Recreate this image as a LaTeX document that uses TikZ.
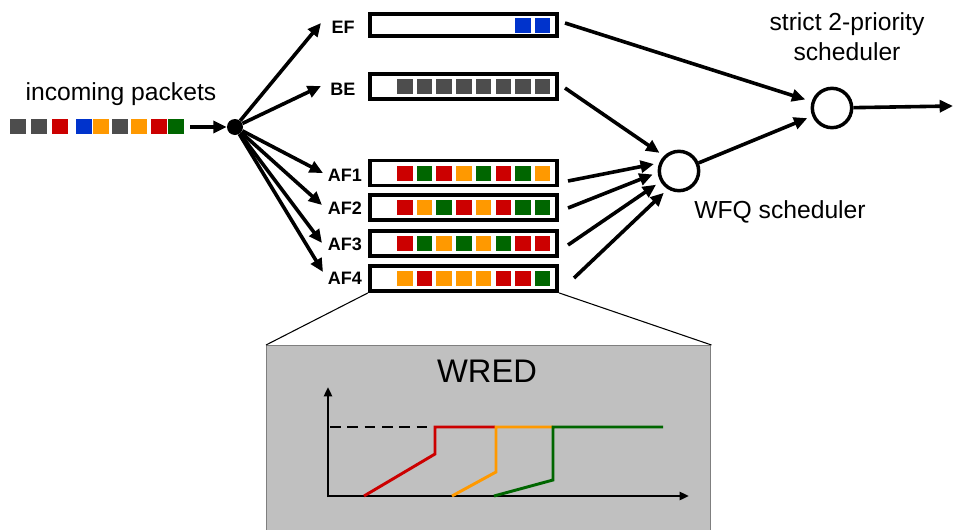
\documentclass[tikz,border=0pt]{standalone}
\usepackage{fontspec}
\setmainfont{Liberation Sans}
\usetikzlibrary{arrows.meta,calc}
\definecolor{pgray}{HTML}{4D4D4D}
\definecolor{pred}{HTML}{CC0000}
\definecolor{pgreen}{HTML}{006600}
\definecolor{porange}{HTML}{FF9900}
\definecolor{pblue}{HTML}{0033CC}
\definecolor{wredbg}{HTML}{C0C0C0}
\definecolor{wredbd}{HTML}{7F7F7F}
\begin{document}
\begin{tikzpicture}[x=0.75pt,y=-0.75pt,
  arr/.style={line width=2.7pt,-{Triangle[length=10pt,width=9pt]}},
  queue/.style={draw,line width=2.9pt,minimum width=140.5pt,minimum height=18.75pt,inner sep=0},
  lab/.style={font=\bfseries\fontsize{13.5}{16}\selectfont,inner sep=0},
  big/.style={font=\fontsize{18.5}{22.5}\selectfont,align=center,inner sep=0},
  sched/.style={circle,draw,line width=2.6pt,minimum size=29.5pt,inner sep=0},
  curve/.style={line width=2.2pt}]
\useasboundingbox (0,0) rectangle (954,529);

% incoming packets
\node[big] (inlab) at (121,94) {incoming packets};
\foreach \x/\c in {10/pgray,31/pgray,52/pred,76/pblue,93/porange,112/pgray,131/porange,151/pred,168/pgreen}
  \fill[\c] (\x,119) rectangle ++(15.5,14.5);
\coordinate (in) at (190,127);
\node[circle,fill,inner sep=0,minimum size=12pt] (dot) at (235,127) {};
\draw[arr] (in) -- (dot);

% queues
\node[queue,minimum height=17pt] (qEF) at (463.5,25) {};
\node[queue] (qBE) at (463.5,86.5) {};
\node[queue] (qAF1) at (463.5,173) {};
\node[queue] (qAF2) at (463.5,207.5) {};
\node[queue] (qAF3) at (463.5,243.5) {};
\node[queue] (qAF4) at (463.5,278.5) {};

\node[lab] (lEF) at (343,27) {EF};
\node[lab] (lBE) at (343,89) {BE};
\node[lab] (lAF1) at (345,175) {AF1};
\node[lab] (lAF2) at (345,208) {AF2};
\node[lab] (lAF3) at (345,244) {AF3};
\node[lab] (lAF4) at (345,278) {AF4};

% packets in queues
\foreach \c [count=\i from 6] in {pblue,pblue}
  \fill[\c] ({397+19.7*\i},17.5) rectangle ++(15.5,15);
\foreach \c [count=\i from 0] in {pgray,pgray,pgray,pgray,pgray,pgray,pgray,pgray}
  \fill[\c] ({397+19.7*\i},79) rectangle ++(15.5,15);
\foreach \c [count=\i from 0] in {pred,pgreen,pred,porange,pgreen,pred,pgreen,porange}
  \fill[\c] ({397+19.7*\i},165.5) rectangle ++(15.5,15);
\foreach \c [count=\i from 0] in {pred,porange,pgreen,pred,porange,pred,pgreen,pgreen}
  \fill[\c] ({397+19.7*\i},200) rectangle ++(15.5,15);
\foreach \c [count=\i from 0] in {pred,pgreen,porange,pgreen,porange,pgreen,pred,pred}
  \fill[\c] ({397+19.7*\i},236) rectangle ++(15.5,15);
\foreach \c [count=\i from 0] in {porange,pred,porange,porange,porange,pred,pred,pgreen}
  \fill[\c] ({397+19.7*\i},271) rectangle ++(15.5,15);

% fan-out arrows
\coordinate (tEF) at (321,23);
\coordinate (tBE) at (321,86);
\coordinate (tAF1) at (323,173);
\coordinate (tAF2) at (322,205);
\coordinate (tAF3) at (322,243);
\coordinate (tAF4) at (323,272);
\foreach \t in {tEF,tBE,tAF1,tAF2,tAF3,tAF4}
  \draw[arr] (dot) -- (\t);

% schedulers
\node[sched] (wfq) at (679,171) {};
\node[sched] (sp) at (832,108) {};
\node[big] (splab) at (847,37) {strict 2-priority\\scheduler};
\node[big] (wfqlab) at (780,212) {WFQ scheduler};

\coordinate (sEF) at (565,23);
\coordinate (sBE) at (565,88);
\coordinate (sAF1) at (568,181);
\coordinate (sAF2) at (568,208);
\coordinate (sAF3) at (568,245);
\coordinate (sAF4) at (574,278);
\draw[arr,shorten >=5pt] (sEF) -- (sp);
\draw[arr,shorten >=4pt] (wfq) -- (sp);
\draw[arr,shorten >=4pt] (sBE) -- (wfq.135);
\draw[arr,shorten >=4pt] (sAF1) -- (wfq.158);
\draw[arr,shorten >=4pt] (sAF2) -- (wfq.184);
\draw[arr,shorten >=4pt] (sAF3) -- (wfq.210);
\draw[arr,shorten >=4pt] (sAF4) -- (wfq.238);
\coordinate (out) at (953,106);
\draw[arr] (sp) -- (out);

% WRED zoom
\node[fill=wredbg,draw=wredbd,line width=1.1pt,anchor=north west,minimum width=333pt,minimum height=150pt,inner sep=0] (wred) at (266,345) {};
\draw[line width=0.8pt] (qAF4.south west) -- (wred.north west);
\draw[line width=0.8pt] (qAF4.south east) -- (wred.north east);
\node[font=\fontsize{24.5}{28}\selectfont,inner sep=0] (wredlab) at (487,371) {WRED};

\draw[line width=2.2pt,-{Triangle[length=7pt,width=6pt]}] (328,497) -- (328,387);
\draw[line width=2.2pt,-{Triangle[length=7pt,width=6pt]}] (327,496) -- (689,496);
\draw[line width=1.8pt,dash pattern=on 8pt off 5pt] (330,427) -- (434,427);
\draw[curve,pred] (364,496) -- (435,454) -- (435,427) -- (495,427);
\draw[curve,porange] (452,496) -- (496,472) -- (496,427) -- (553,427);
\draw[curve,pgreen] (494,496) -- (553,480) -- (553,427) -- (663,427);
\end{tikzpicture}
\end{document}
